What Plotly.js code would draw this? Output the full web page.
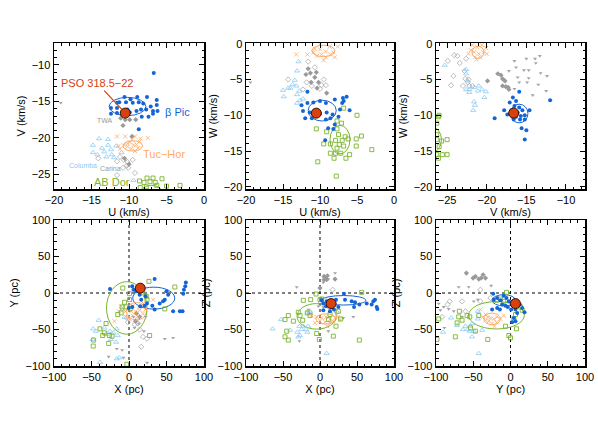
<!DOCTYPE html>
<html>
<head>
<meta charset="utf-8">
<script src="https://cdn.plot.ly/plotly-3.0.1.min.js"></script>
<style>body{margin:0;background:#fff}#chart{width:598px;height:432px}</style>
</head>
<body>
<div id="chart"></div>
<script>
// ---- panel 1: U vs V (km/s)
var uvBpic = [[-6.7,-11.1],[-10.6,-14.4],[-9.8,-14.7],[-8.9,-14.4],[-7.6,-14.4],[-6.3,-14.8],[-11.3,-15.1],[-10.4,-15.1],[-9.5,-15.2],[-8.7,-15.1],[-8.1,-15.3],[-12.4,-15.9],[-11.6,-15.9],[-10.2,-16.1],[-9.0,-16.3],[-7.1,-15.7],[-6.3,-15.5],[-12.4,-16.7],[-11.6,-16.6],[-9.9,-16.5],[-8.4,-16.1],[-7.7,-16.1],[-6.8,-16.3],[-6.2,-16.3],[-8.3,-17.1],[-7.4,-17.1],[-6.8,-16.7],[-8.7,-18.8],[-10.8,-16.6],[-11.6,-15.2]];
var uvTuc = [[-11.6,-19.8],[-10.5,-19.8],[-9.6,-20.2],[-9.2,-19.8],[-8.5,-20.1],[-7.5,-20.0],[-11.4,-21.1],[-10.7,-21.0],[-10.2,-21.2],[-9.7,-21.5],[-9.0,-20.9],[-8.6,-20.5],[-9.2,-21.8],[-10.2,-20.8],[-11.2,-21.5],[-9.4,-21.0],[-8.8,-21.4],[-9.9,-20.6]];
var uvTwa = [[-10.9,-16.5],[-11.1,-17.3],[-10.5,-17.5],[-9.9,-17.5],[-9.1,-17.5],[-10.8,-18.3],[-9.6,-19.8],[-10.6,-22.8],[-10.0,-23.6]];
var uvCar = [[-14.1,-22.8],[-11.2,-22.6],[-10.7,-23.0],[-10.2,-23.3],[-10.3,-23.8],[-10.8,-24.1],[-10.1,-24.1],[-11.6,-23.2],[-9.5,-23.0],[-11.6,-25.1],[-9.2,-24.8]];
var uvOct = [[-19.1,-15.2]];
var uvCol = [[-14.8,-21.0],[-14.0,-20.1],[-12.8,-20.2],[-12.8,-21.0],[-13.6,-21.4],[-13.3,-21.9],[-12.4,-21.6],[-12.3,-22.3],[-13.0,-22.6],[-14.2,-22.3],[-11.7,-21.1],[-11.0,-22.0],[-12.0,-22.7],[-9.4,-25.8],[-14.8,-22.0]];
var uvAbd = [[-7.6,-25.5],[-6.8,-25.5],[-8.6,-25.9],[-8.0,-26.1],[-7.2,-26.0],[-6.5,-26.1],[-5.6,-25.6],[-6.3,-26.5],[-7.7,-26.7],[-3.2,-26.5],[-5.0,-26.6],[-8.5,-26.8]];

// ---- panel 2: U vs W (km/s)
var uwBpic = [[-11.7,-6.7],[-12.5,-8.6],[-11.7,-8.3],[-10.9,-8.2],[-10.0,-8.0],[-9.2,-8.3],[-8.0,-7.8],[-6.9,-7.6],[-6.8,-8.0],[-7.0,-8.3],[-6.4,-7.4],[-11.4,-9.6],[-10.0,-9.8],[-9.1,-9.6],[-8.3,-9.9],[-12.0,-10.4],[-11.1,-10.4],[-9.2,-10.6],[-8.6,-10.4],[-7.3,-9.2],[-8.0,-11.3],[-8.9,-11.8],[-8.2,-11.9],[-9.3,-13.5],[-12.3,-9.4],[-7.5,-10.2],[-6.0,-9.3]];
var uwTuc = [[-10.0,-0.1],[-8.7,-0.4],[-7.6,-0.4],[-13.2,-1.5],[-11.7,-1.5],[-10.9,-1.2],[-10.4,-1.7],[-9.8,-1.5],[-9.2,-1.1],[-8.6,-1.5],[-8.2,-1.2],[-9.2,-1.9],[-10.0,-0.8],[-9.5,-2.3],[-8.0,-1.9],[-10.7,-0.7]];
var uwTwa = [[-11.9,-4.3],[-11.3,-4.1],[-10.5,-4.0],[-10.7,-4.7],[-11.2,-5.4],[-10.2,-5.4],[-10.4,-6.2],[-9.1,-6.9],[-11.6,-3.5]];
var uwCar = [[-11.6,-2.5],[-10.7,-3.3],[-14.3,-5.0],[-11.8,-5.4],[-11.1,-5.9],[-9.8,-5.8],[-9.2,-5.8],[-10.0,-6.3],[-9.5,-5.0],[-12.3,-6.4]];
var uwOct = [[-19.4,-5.4]];
var uwCol = [[-12.9,-2.5],[-13.1,-3.8],[-13.4,-5.1],[-13.7,-5.7],[-14.3,-6.2],[-15.0,-6.5],[-13.2,-5.9],[-12.8,-6.6],[-13.1,-7.1],[-14.9,-7.4],[-12.7,-7.9],[-12.3,-7.7],[-13.1,-8.3],[-14.0,-6.2]];
var uwAbd = [[-6.8,-9.0],[-5.0,-10.0],[-7.7,-10.8],[-7.1,-11.1],[-10.5,-11.9],[-7.7,-11.9],[-9.1,-12.3],[-7.5,-12.7],[-6.6,-13.0],[-6.2,-13.3],[-5.1,-13.3],[-4.4,-12.9],[-7.9,-13.5],[-7.0,-13.5],[-9.5,-14.0],[-8.6,-14.0],[-7.4,-14.1],[-6.8,-14.3],[-5.1,-14.3],[-8.6,-15.3],[-7.9,-15.3],[-7.2,-15.3],[-6.0,-15.5],[-8.1,-16.0],[-6.5,-16.0],[-10.3,-16.5],[-3.0,-14.8],[-7.8,-18.5],[-7.7,-14.6]];

// ---- panel 3: V vs W (km/s)
var vwBpic = [[-17.1,-8.2],[-15.9,-6.7],[-16.7,-7.5],[-16.3,-8.0],[-16.5,-8.7],[-15.9,-8.9],[-15.5,-9.3],[-16.1,-9.6],[-15.7,-10.1],[-15.2,-10.0],[-16.3,-10.2],[-15.8,-10.6],[-15.2,-10.6],[-16.6,-10.6],[-17.8,-9.3],[-19.0,-10.4],[-16.9,-9.3],[-15.6,-11.8],[-15.0,-12.1],[-15.2,-13.4],[-12.0,-7.9],[-14.6,-9.3],[-17.4,-9.9]];
var vwTuc = [[-22.3,-1.4],[-21.8,-0.2],[-21.2,-0.5],[-20.6,-0.2],[-20.1,-0.6],[-21.6,-1.2],[-21.0,-1.4],[-20.4,-1.2],[-21.5,-1.9],[-20.8,-1.9],[-21.3,-2.2],[-20.0,-1.4],[-22.0,-0.9]];
var vwTwa = [[-18.6,-4.2],[-18.2,-4.4],[-18.0,-4.9],[-17.7,-5.2],[-17.6,-6.0],[-17.3,-6.1],[-17.2,-6.4],[-18.0,-5.9],[-19.9,-5.2]];
var vwCar = [[-24.9,-2.4],[-24.1,-1.6],[-23.7,-1.7],[-23.4,-2.7],[-24.2,-4.5],[-22.6,-2.1],[-22.8,-3.8],[-22.7,-4.9],[-23.0,-5.9],[-22.4,-5.4],[-22.2,-5.9],[-21.8,-5.9],[-22.3,-5.0],[-24.5,-5.8]];
var vwOct = [[-16.5,-2.4],[-15.0,-2.1],[-13.9,-2.1],[-13.3,-1.7],[-13.8,-2.7],[-16.3,-3.3],[-15.3,-3.7],[-14.7,-3.7],[-13.2,-4.1],[-12.4,-4.5],[-15.9,-5.4],[-14.9,-5.4],[-13.5,-5.7],[-12.5,-6.6],[-14.2,-7.2],[-14.7,-4.8],[-17.2,-3.8],[-16.1,-4.7],[-16.5,-6.3]];
var vwCol = [[-25.3,-3.0],[-22.6,-3.6],[-22.6,-4.2],[-22.4,-5.2],[-22.6,-6.4],[-22.2,-6.8],[-21.6,-6.1],[-21.0,-5.9],[-21.1,-6.6],[-20.6,-6.4],[-20.1,-6.7],[-21.6,-8.1],[-21.5,-8.6],[-21.7,-9.3],[-22.2,-6.4],[-20.3,-7.5]];
var vwAbd = [[-26.0,-10.0],[-26.1,-10.2],[-26.3,-11.1],[-25.0,-13.4],[-25.7,-13.6],[-26.3,-13.4],[-26.0,-14.4],[-26.3,-15.5],[-25.6,-15.5],[-25.0,-15.5],[-26.1,-16.0],[-26.3,-12.7]];

// ---- panel 4: X vs Y (pc)
var xyBpic = [[34.2,19.1],[-25.3,5.5],[4.3,9.1],[9.6,2.3],[14.1,-2.3],[22.1,-4.5],[16.3,-9.1],[24.0,-14.5],[31.1,-17.3],[20.8,-17.3],[34.2,-22.7],[40.9,-14.5],[45.4,-11.4],[47.7,-9.1],[50.0,2.3],[52.2,-2.3],[58.8,-25.0],[67.8,-25.0],[71.4,-25.0],[72.3,-0.9],[73.2,4.5],[75.0,9.1],[75.8,14.5],[4.3,-19.1],[-0.2,-20.5],[6.0,4.5],[15.0,-18.2]];
var xyTuc = [[-10.5,-18.2],[5.1,-17.3],[14.1,-19.1],[19.5,-14.5],[32.0,-9.1],[-4.7,-25.0],[2.9,-25.0],[8.7,-25.0],[14.1,-23.6],[22.1,-22.7],[5.1,-30.9],[-1.6,-34.1],[11.9,-31.8],[18.6,-28.2],[1.6,-36.4],[10.5,-36.4],[-19.5,-38.6],[-13.6,-25.0]];
var xyTwa = [[8.7,-38.6],[14.1,-32.7],[10.0,-28.0]];
var xyCar = [[-1.6,-40.0],[7.4,-43.2],[14.1,-50.0],[18.6,-60.0],[16.3,-73.6],[24.0,-62.7],[-2.9,-34.1],[11.9,-41.8]];
var xyOct = [[6.0,-32.7],[22.1,-32.7],[13.2,-41.8],[7.4,-47.7],[19.9,-52.3],[47.7,-62.7],[58.8,-61.4],[-16.3,-76.4],[-27.1,-87.3],[-7.4,-88.6],[24.0,-95.5],[-9.2,-78.2]];
var xyCol = [[-40.5,-37.3],[-47.7,-49.1],[-44.1,-52.3],[-32.9,-47.7],[-30.6,-56.8],[-20.8,-54.5],[-15.0,-58.2],[-23.9,-63.6],[-17.2,-67.3],[-16.3,-90.0],[-12.8,-88.6],[-38.7,-95.0],[-48.5,-63.6],[-25.3,-52.3],[-16.3,-49.1],[-9.2,-22.7],[-6.0,-33.2]];
var xyAbd = [[26.6,15.9],[61.1,8.2],[-8.3,6.8],[0.7,-0.9],[18.6,0.0],[23.0,-4.5],[-6.0,-12.7],[0.7,-9.1],[-9.2,-19.1],[-3.8,-19.1],[1.6,-21.8],[-15.0,-29.5],[-30.6,-41.8],[-38.7,-49.1],[-32.9,-54.5],[-35.1,-58.2],[-26.2,-58.2],[-22.6,-59.1],[-47.2,-64.5],[-27.1,-69.1],[-47.7,-72.7],[27.5,-58.2],[47.7,-21.8],[-2.9,-97.7],[-10.5,-27.3],[24.0,-9.1]];

// ---- panel 5: X vs Z (pc)
var xzBpic = [[2.3,-10.0],[9.0,-11.4],[21.6,-9.1],[32.4,-0.9],[33.8,-9.1],[42.8,-11.4],[47.3,-12.7],[53.2,-15.9],[46.0,-19.1],[18.9,-22.7],[13.5,-25.0],[4.5,-23.6],[63.1,-14.5],[69.8,-15.9],[74.3,-9.1],[76.6,-19.1],[77.5,-21.8],[72.1,-11.4],[13.5,-14.5],[8.1,-18.2],[24.8,-19.1],[4.5,-14.5]];
var xzTuc = [[-11.3,-30.9],[-4.5,-32.7],[2.3,-34.1],[8.1,-32.7],[13.5,-35.5],[20.3,-34.1],[0.0,-38.6],[6.8,-40.0],[13.5,-40.9],[18.0,-38.6],[24.8,-32.7],[9.9,-45.5],[-6.8,-40.9],[27.0,-37.3]];
var xzTwa = [[5.4,22.7],[8.1,20.5],[9.9,23.6],[5.4,18.2],[0.0,6.8],[20.3,19.1],[9.0,18.2]];
var xzCar = [[17.1,4.5],[6.8,-10.0],[0.0,-14.5],[20.3,-15.9],[13.5,-20.5],[22.5,-26.4],[-13.5,-27.3]];
var xzOct = [[-31.5,8.2],[4.5,14.5],[11.3,19.1],[-27.9,-65.9],[-2.3,-18.2],[11.3,-52.3],[20.3,27.3],[4.5,-19.1],[31.5,-34.1],[45.0,-32.7],[-15.8,-22.7]];
var xzCol = [[-64.0,-49.1],[-52.7,-36.4],[-40.5,-50.9],[-30.6,-53.6],[-29.3,-60.0],[-27.0,-58.2],[-22.5,-45.5],[-18.9,-50.0],[-17.1,-53.6],[-24.8,-50.0],[-17.1,-27.3],[9.0,-82.7],[-13.5,-25.0],[-15.8,-45.5],[-27.9,-45.5]];
var xzAbd = [[-5.4,-1.4],[-12.6,-9.1],[0.0,-9.1],[2.3,-8.2],[56.3,0.9],[-22.5,-10.0],[24.8,-25.0],[13.5,-29.5],[27.9,-35.5],[11.3,-36.4],[21.6,-45.5],[-17.1,-27.3],[-27.0,-30.9],[-42.8,-30.9],[-47.3,-36.4],[-36.0,-38.6],[-45.0,-52.3],[-47.3,-60.0],[-42.8,-64.5],[-4.5,-55.5],[-0.9,-63.6],[18.0,-59.1],[53.2,-64.5],[-23.4,-37.3],[-13.5,-30.9],[-29.3,-26.4]];

// ---- panel 6: Y vs Z (pc)
var yzBpic = [[-23.3,-0.9],[-22.4,-9.1],[-17.9,-6.8],[-13.5,-10.0],[-9.0,-3.6],[-5.4,-6.8],[-2.2,-11.4],[-6.7,-17.3],[-11.2,-15.9],[-17.9,-20.5],[-24.7,-22.7],[0.9,-22.7],[6.7,-22.7],[9.0,-27.3],[12.6,-15.9],[15.7,-20.5],[18.8,-26.4],[4.5,-34.1],[2.2,-40.0],[6.7,-38.6],[-3.6,-19.1],[-14.3,-22.7]];
var yzTuc = [[-40.4,-22.7],[-33.6,-29.5],[-30.5,-32.7],[-26.9,-34.1],[-22.4,-35.5],[-17.9,-32.7],[-13.5,-35.5],[-29.1,-38.6],[-24.7,-41.8],[-18.8,-40.0],[-33.6,-37.3],[-9.0,-30.9],[-21.5,-45.5],[-36.8,-32.7]];
var yzTwa = [[-59.2,27.3],[-50.2,20.5],[-42.6,19.1],[-39.5,20.5],[-36.8,25.0],[-33.6,20.5],[-47.1,22.7]];
var yzCar = [[-81.6,-11.4],[-91.9,-32.7],[-40.4,4.5],[-26.9,-6.8],[-40.4,-11.4],[-65.0,-11.4],[-84.3,-15.9],[-60.5,-25.0]];
var yzOct = [[-69.5,8.2],[-56.1,8.2],[-94.2,-23.6],[-89.7,-19.1],[-83.0,-21.8],[-76.2,-25.0],[-96.4,-14.5],[-88.8,-47.7],[-43.9,-9.1],[-49.3,-11.4],[-26.0,10.0],[-65.0,-32.7]];
var yzCol = [[-90.6,-53.6],[-79.8,-34.1],[-71.7,-44.5],[-63.7,-50.0],[-60.5,-45.5],[-57.4,-50.0],[-53.8,-45.5],[-51.6,-41.8],[-51.6,-60.0],[-43.9,-35.5],[-43.9,-25.0],[-38.1,-50.9],[-42.6,-82.7],[-54.7,-52.3],[-49.3,-52.3]];
var yzAbd = [[-5.4,0.9],[-13.5,-8.2],[-18.8,-10.0],[-9.0,-11.4],[13.5,-19.1],[15.7,-23.6],[6.7,-29.5],[4.5,-35.5],[8.1,-49.1],[-6.7,-45.5],[-2.2,-58.2],[0.0,-61.4],[-30.5,-63.6],[-47.1,-52.3],[-53.8,-47.7],[-58.3,-30.9],[-54.7,-32.7],[-65.0,-37.3],[-69.5,-32.7],[-71.7,-40.9],[-68.6,-25.0],[-96.4,-35.5],[-98.7,-63.6],[-74.0,-60.0],[-42.6,-30.9]];

// PSO 318.5-22 (U, V, W km/s; X, Y, Z pc)
var psoUVW = [-10.5, -16.6, -9.7];
var psoXYZ = [15.0, 6.6, -14.5];

// ellipses [cx, cy, rx, ry] per panel: uv, uw, vw, xy, xz, yz
var ellBpic = [[-10.2,-15.7,2.45,1.25],[-9.7,-9.35,1.9,1.45],[-15.9,-9.75,1.1,1.3],[33,-7,28,15],[32,-10,30,6.5],[-9,-10,15.7,7.7]];
var ellTuc  = [[-9.5,-21.1,1.3,0.7],[-9.55,-1.0,1.55,0.8],[-21.1,-1.2,0.75,0.85],[10,-25,13.5,12],[8,-35.5,13.5,7],[-24.7,-35.5,11.2,8]];
var ellAbd  = [[-7.0,-27.8,1.6,1.3],[-7.3,-13.4,1.35,2.0],[-27.4,-13.4,1.7,2.0],[-3,-20.5,27,36],[-4.5,-32,26.5,17.5],[-18.8,-30.5,37.4,18.8]];

var axisTitles = [['U (km/s)','V (km/s)'],['U (km/s)','W (km/s)'],['V (km/s)','W (km/s)'],['X (pc)','Y (pc)'],['X (pc)','Z (pc)'],['Y (pc)','Z (pc)']];
var xRanges = [[-20,0],[-20,0],[-26.4,-7.6],[-100,100],[-100,100],[-100,100]];
var yRanges = [[-27,-7],[-20.3,0.1],[-20.3,0.1],[-100,100],[-100,100],[-100,100]];

var C_BPIC = '#1464d8', C_TUC = '#ffaa66', C_ABD = '#7ab52e', C_COL = '#8ccaf4', C_GRAY = '#999999', C_PSO = '#d8400e';
var FONT = 'Liberation Sans, Arial, Helvetica, sans-serif';

var panels = [
  [uvBpic, uvTuc, uvTwa, uvCar, uvOct, uvCol, uvAbd, [psoUVW[0], psoUVW[1]]],
  [uwBpic, uwTuc, uwTwa, uwCar, uwOct, uwCol, uwAbd, [psoUVW[0], psoUVW[2]]],
  [vwBpic, vwTuc, vwTwa, vwCar, vwOct, vwCol, vwAbd, [psoUVW[1], psoUVW[2]]],
  [xyBpic, xyTuc, xyTwa, xyCar, xyOct, xyCol, xyAbd, [psoXYZ[0], psoXYZ[1]]],
  [xzBpic, xzTuc, xzTwa, xzCar, xzOct, xzCol, xzAbd, [psoXYZ[0], psoXYZ[2]]],
  [yzBpic, yzTuc, yzTwa, yzCar, yzOct, yzCol, yzAbd, [psoXYZ[1], psoXYZ[2]]]
];

function pts(list, n, symbol, color, size, lw) {
  return {
    x: list.map(function (p) { return p[0]; }),
    y: list.map(function (p) { return p[1]; }),
    xaxis: 'x' + (n > 1 ? n : ''), yaxis: 'y' + (n > 1 ? n : ''),
    type: 'scatter', mode: 'markers', hoverinfo: 'skip', showlegend: false, cliponaxis: true,
    marker: {symbol: symbol, color: color, size: size, line: {color: color, width: lw}}
  };
}

var data = [];
var shapes = [];
panels.forEach(function (g, i) {
  var n = i + 1;
  data.push(pts(g[4], n, 'triangle-down', '#a4a4a4', 3.5, 0));
  data.push(pts(g[3], n, 'diamond-open', '#aaaaaa', 4, 0.8));
  data.push(pts(g[2], n, 'diamond', C_GRAY, 4, 0));
  data.push(pts(g[5], n, 'triangle-up-open', C_COL, 4.5, 0.8));
  data.push(pts(g[1], n, 'x-thin-open', C_TUC, 4, 0.8));
  data.push(pts(g[6], n, 'square-open', C_ABD, 4, 0.9));
  data.push(pts(g[0], n, 'circle', C_BPIC, 4, 0));
  var pso = pts([g[7]], n, 'circle', C_PSO, 10, 1);
  pso.marker.line = {color: '#3a0d00', width: 1};
  data.push(pso);

  var xr = 'x' + (n > 1 ? n : ''), yr = 'y' + (n > 1 ? n : '');
  [[ellBpic[i], C_BPIC], [ellTuc[i], C_TUC], [ellAbd[i], C_ABD]].forEach(function (e) {
    var p = e[0];
    shapes.push({type: 'circle', xref: xr, yref: yr, layer: 'below',
      x0: p[0] - p[2], x1: p[0] + p[2], y0: p[1] - p[3], y1: p[1] + p[3],
      line: {color: e[1], width: 1}});
  });
  if (n >= 4) {
    shapes.push({type: 'line', xref: xr, yref: yr + ' domain', x0: 0, x1: 0, y0: 0, y1: 1, layer: 'below', line: {color: 'black', width: 1, dash: 'dot'}});
    shapes.push({type: 'line', xref: xr + ' domain', yref: yr, x0: 0, x1: 1, y0: 0, y1: 0, layer: 'below', line: {color: 'black', width: 1, dash: 'dot'}});
  }
});

var W = 598, H = 432;
var xDom = [[54, 204], [246, 394], [436, 585]];
var yDom = [[43, 189], [220, 366]];

var layout = {
  width: W, height: H, margin: {l: 0, r: 0, t: 0, b: 0},
  paper_bgcolor: 'white', plot_bgcolor: 'white',
  font: {family: FONT, size: 11, color: 'black'},
  showlegend: false, shapes: shapes,
  annotations: [
    {xref: 'x', yref: 'y', x: psoUVW[0], y: psoUVW[1], text: 'PSO 318.5\u221222', showarrow: true,
     ax: -28, ay: -30, arrowhead: 0, arrowwidth: 1.2, arrowcolor: C_PSO, standoff: 5,
     font: {color: C_PSO, size: 11}},
    {xref: 'x', yref: 'y', x: -3.6, y: -16.5, text: '\u03b2 Pic', showarrow: false, font: {color: C_BPIC, size: 11}},
    {xref: 'x', yref: 'y', x: -13.2, y: -17.6, text: 'TWA', showarrow: false, font: {color: '#999999', size: 7}},
    {xref: 'x', yref: 'y', x: -5.4, y: -22.2, text: 'Tuc\u2212Hor', showarrow: false, font: {color: C_TUC, size: 11}},
    {xref: 'x', yref: 'y', x: -16.2, y: -23.8, text: 'Columba', showarrow: false, font: {color: C_COL, size: 7}},
    {xref: 'x', yref: 'y', x: -12.5, y: -24.2, text: 'Carina', showarrow: false, font: {color: '#999999', size: 7}},
    {xref: 'x', yref: 'y', x: -12.3, y: -26.1, text: 'AB Dor', showarrow: false, font: {color: C_ABD, size: 11}}
  ]
};

for (var i = 0; i < 6; i++) {
  var n = i + 1, sfx = n > 1 ? n : '';
  var xd = xDom[i % 3], yd = yDom[Math.floor(i / 3)];
  var big = i >= 3;
  var common = {
    showline: true, linecolor: 'black', linewidth: 1.5, mirror: 'allticks',
    ticks: 'inside', ticklen: 5, tickwidth: 1, tickcolor: 'black',
    showgrid: false, zeroline: false, fixedrange: true,
    tickfont: {size: 11, family: FONT},
    minor: {ticks: 'inside', ticklen: 2.5, tickwidth: 1, tickcolor: 'black', dtick: big ? 10 : 1}
  };
  layout['xaxis' + sfx] = Object.assign({}, common, {
    domain: [xd[0] / W, xd[1] / W], anchor: 'y' + sfx, range: xRanges[i],
    dtick: big ? 50 : 5, tick0: 0,
    title: {text: axisTitles[i][0], font: {size: 11}, standoff: 1}
  });
  layout['yaxis' + sfx] = Object.assign({}, common, {
    domain: [1 - yd[1] / H, 1 - yd[0] / H], anchor: 'x' + sfx, range: yRanges[i],
    dtick: big ? 50 : 5, tick0: 0,
    title: {text: axisTitles[i][1], font: {size: 11}, standoff: 4}
  });
}

Plotly.newPlot('chart', data, layout, {staticPlot: true, displayModeBar: false});
</script>
</body>
</html>
